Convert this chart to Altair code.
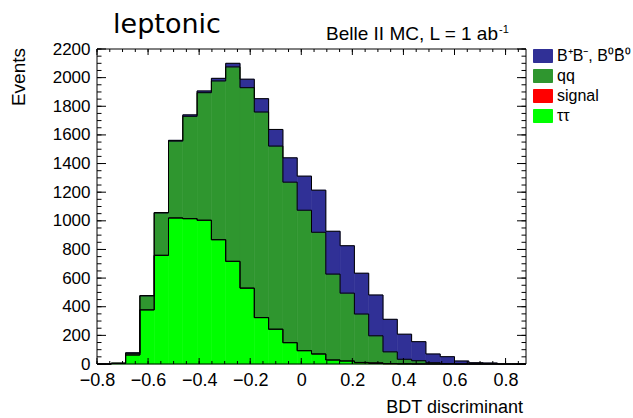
import altair as alt
import numpy as np
import pandas as pd

# ---------------- data ----------------
TITLE = "leptonic"
SUBTITLE = "Belle II MC, L = 1 ab"
SUBTITLE_SUP = "-1"
X_TITLE = "BDT discriminant"
Y_TITLE = "Events"

BIN_LOW = -0.8
BIN_HIGH = 0.88
N_BINS = 30

components = ["B⁺B⁻, B⁰B̄⁰", "qq", "signal", "ττ"]          # legend order
colors = ["#303096", "#2F962F", "#FF0000", "#00FF00"]

# per-bin counts of each component
tautau = [0, 5, 63, 378, 759, 1020, 1015, 1004, 868, 717, 530, 324, 243, 149, 93,
          70, 28, 21, 9, 4, 2, 1, 0, 0, 0, 0, 0, 0, 0, 0]
signal = [0, 0, 0, 0, 0, 0, 0, 0, 0, 0, 0, 0, 0, 0, 0,
          0, 0, 0, 2, 5, 1, 0, 0, 0, 0, 0, 0, 0, 0, 0]
qq = [0, 0, 12, 98, 296, 537, 715, 891, 1109, 1358, 1400, 1436, 1279, 1121, 981,
      850, 600, 474, 338, 188, 82, 32, 23, 9, 3, 0, 0, 0, 0, 0]
bbbar = [0, 0, 3, 2, 3, 5, 10, 12, 18, 25, 59, 93, 116, 170, 238,
         294, 299, 331, 285, 285, 227, 175, 133, 61, 48, 21, 9, 7, 0, 0]

x_tick_labels = [-0.8, -0.6, -0.4, -0.2, 0, 0.2, 0.4, 0.6, 0.8]
y_tick_labels = [0, 200, 400, 600, 800, 1000, 1200, 1400, 1600, 1800, 2000, 2200]

# ---------------- build tables ----------------
edges = np.linspace(BIN_LOW, BIN_HIGH, N_BINS + 1)
stack_order = [("ττ", tautau), ("signal", signal), ("qq", qq), (components[0], bbbar)]

rect_rows = []
line_rows = []
cum = np.zeros(N_BINS)
for lvl, (name, vals) in enumerate(stack_order):
    vals = np.array(vals, dtype=float)
    for i in range(N_BINS):
        if vals[i] > 0:
            rect_rows.append({"comp": name, "x0": edges[i], "x1": edges[i + 1],
                              "lo": cum[i], "hi": cum[i] + vals[i]})
    cum = cum + vals
    for i in range(N_BINS):
        line_rows.append({"level": lvl, "x": edges[i], "y": cum[i]})
    line_rows.append({"level": lvl, "x": edges[N_BINS], "y": 0.0})

rect_df = pd.DataFrame(rect_rows)
line_df = pd.DataFrame(line_rows)

x_major = pd.DataFrame({"v": x_tick_labels})
x_minor = pd.DataFrame({"v": np.round(np.arange(-0.8, 0.86, 0.05), 3)})
y_major = pd.DataFrame({"v": y_tick_labels})
y_minor = pd.DataFrame({"v": np.arange(0, 2201, 50)})

W, H = 429, 315
FONT = "Liberation Sans"

xscale = alt.Scale(domain=[BIN_LOW, BIN_HIGH], nice=False, zero=False)
yscale = alt.Scale(domain=[0, 2200], nice=False, zero=False)
xaxis = alt.Axis(values=x_tick_labels, ticks=False, domain=False, grid=False, title=None,
                 labelFontSize=18, labelFont=FONT, labelColor="black", labelPadding=7,
                 labelFlush=False, labelOverlap=False,
                 labelExpr="datum.value == 0 ? '0' : format(datum.value, '.1f')")
yaxis = alt.Axis(values=y_tick_labels, ticks=False, domain=False, grid=False, title=None,
                 labelFontSize=17, labelFont=FONT, labelColor="black", labelPadding=7,
                 labelFlush=False, labelOverlap=False, format="d")

legend = alt.Legend(orient="none", legendX=438, legendY=-1, title=None,
                    symbolType="M-1.46,-1L1.46,-1L1.46,1L-1.46,1Z", symbolSize=169,
                    symbolStrokeColor="black", symbolStrokeWidth=1, symbolOpacity=1,
                    labelFont=FONT, labelFontSize=16, labelColor="black", labelOffset=6,
                    rowPadding=2, padding=0, labelLimit=200)

color_scale = alt.Scale(domain=components, range=colors)

rects = alt.Chart(rect_df).mark_rect(strokeWidth=0.6).encode(
    x=alt.X("x0:Q", scale=xscale, axis=xaxis),
    x2="x1:Q",
    y=alt.Y("lo:Q", scale=yscale, axis=yaxis),
    y2="hi:Q",
    color=alt.Color("comp:N", scale=color_scale, legend=legend),
    stroke=alt.Stroke("comp:N", scale=color_scale, legend=None),
)

lines = alt.Chart(line_df).mark_line(interpolate="step-after", color="black", strokeWidth=1).encode(
    x=alt.X("x:Q", scale=xscale, axis=xaxis),
    y=alt.Y("y:Q", scale=yscale, axis=yaxis),
    detail="level:N",
)

def xticks(df, y0, y1):
    return alt.Chart(df).mark_rule(color="black", strokeWidth=1).encode(
        x=alt.X("v:Q", scale=xscale, axis=xaxis), y=alt.value(y0), y2=alt.value(y1))

def yticks(df, x0, x1):
    return alt.Chart(df).mark_rule(color="black", strokeWidth=1).encode(
        y=alt.Y("v:Q", scale=yscale, axis=yaxis), x=alt.value(x0), x2=alt.value(x1))

ticks = [
    xticks(x_major, H, H - 6), xticks(x_minor, H, H - 3),
    xticks(x_major, 0, 6), xticks(x_minor, 0, 3),
    yticks(y_major, 0, 9), yticks(y_minor, 0, 4.5),
    yticks(y_major, W, W - 9), yticks(y_minor, W, W - 4.5),
]

frame = alt.Chart(pd.DataFrame({"f": [1]})).mark_rect(
    fill=None, stroke="black", strokeWidth=1).encode(
    x=alt.value(0), x2=alt.value(W), y=alt.value(0), y2=alt.value(H))

def text(t, x, y, size, align="left", font=FONT, angle=0, baseline="alphabetic"):
    kw = dict(align=align, baseline=baseline, font=font, fontSize=size, color="black")
    if angle:
        kw["angle"] = angle
    return alt.Chart(pd.DataFrame({"t": [t]})).mark_text(**kw).encode(
        text="t:N", x=alt.value(x), y=alt.value(y))

texts = [
    text(TITLE, 70, -16, 27, align="center", font="DejaVu Sans"),
    text(SUBTITLE, 401, -9, 19, align="right"),
    text(SUBTITLE_SUP, 402, -16, 11, align="left"),
    text(Y_TITLE, -72, -1, 19, align="right", angle=270),
    text(X_TITLE, 426, 364, 18, align="right"),
]

chart = alt.layer(rects, lines, *ticks, frame, *texts).properties(
    width=W, height=H,
    padding={"left": 97, "top": 49, "right": 633 - 97 - W, "bottom": 418 - 49 - H},
    autosize=alt.AutoSizeParams(type="none"),
).configure(font=FONT).configure_view(stroke=None)

chart.save("out.html", embed_options={"renderer": "svg", "actions": False})
